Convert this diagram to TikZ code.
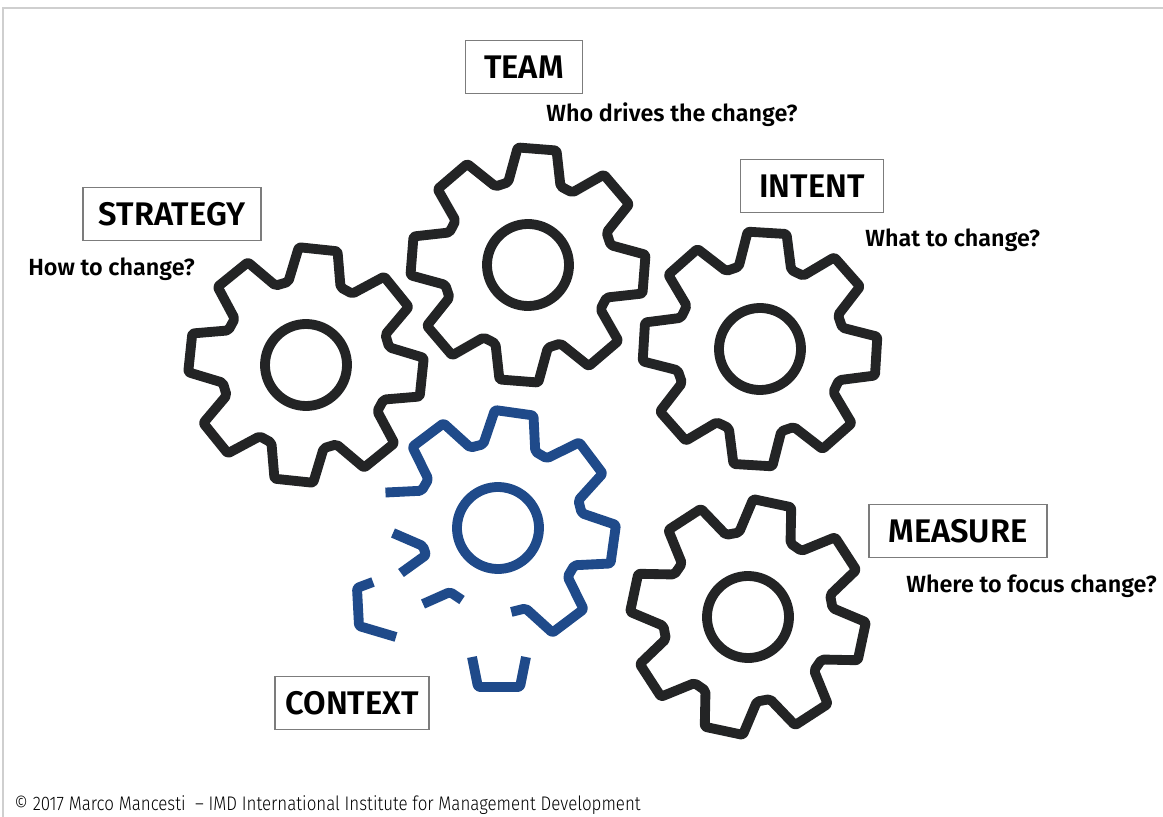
\documentclass[tikz,border=0pt]{standalone}
\usepackage{fontspec}
\setmainfont{Fira Sans}[BoldFont={Fira Sans SemiBold}]
\newfontfamily\footfont{Fira Sans Light}[FakeStretch=0.86, Ligatures=TeX]

\definecolor{gearblack}{HTML}{232425}
\definecolor{gearblue}{HTML}{1F4A8A}
\definecolor{boxgray}{HTML}{7C7C7C}
\definecolor{framegray}{HTML}{CFCFCF}

\tikzset{
  gearline/.style={draw=gearblack, line width=5.6pt, line join=round, rounded corners=1.2pt},
  labelbox/.style={draw=boxgray, line width=0.7pt, minimum height=1.06cm, inner sep=0pt,
    font=\fontsize{18.6}{20}\selectfont\bfseries},
  question/.style={inner sep=0pt, font=\fontsize{13.3}{15}\selectfont\bfseries}
}

% one cog: centre x, centre y, turn
\newcommand{\cog}[3]{%
  \begin{scope}[shift={(#1,#2)}, rotate=#3]
    \draw[gearline] (0,0) circle (41);
    \draw[gearline] (-18:85) -- (-9.5:118) -- (9.5:118) -- (18:85)
      \foreach \k in {1,...,7}{ -- (\k*45-18:85) -- (\k*45-9.5:118) -- (\k*45+9.5:118) -- (\k*45+18:85)} -- cycle;
  \end{scope}}

\begin{document}
\begin{tikzpicture}[x=0.02cm, y=-0.02cm]
  \useasboundingbox (0,0) rectangle (1163,817);
  \draw[framegray, line width=1.1pt] (3,817) -- (3,8) -- (1163,8);

  % the four running cogs
  \cog{306}{365}{-6}
  \cog{528}{265}{-4.5}
  \cog{760}{349}{-3.5}
  \cog{748}{617}{-12}

  % the broken one
  \begin{scope}[shift={(498,528)}, rotate=-8]
    \draw[gearline, draw=gearblue] (0,0) circle (41);
    \draw[gearline, draw=gearblue] (73:85)
      \foreach \k in {1,0,-1,-2,-3}{ -- (\k*45+18:85) -- (\k*45+9.5:118) -- (\k*45-9.5:118) -- (\k*45-18:85)}
      -- (-162:85) -- (-170.5:118);
  \end{scope}
  \draw[gearline, draw=gearblue] (393,533) -- (423,546) -- (426,555) -- (401,573);
  \draw[gearline, draw=gearblue] (423,604) -- (450,592) -- (462,600);
  \draw[gearline, draw=gearblue] (373,582) -- (357,588) -- (359,626) -- (396,637);
  \draw[gearline, draw=gearblue] (472,657) -- (478,687) -- (520,687) -- (526,657);

  % labels
  \node[labelbox, minimum width=2.34cm] (team) at (524,67) {TEAM};
  \node[labelbox, minimum width=3.56cm] (strategy) at (172,214) {STRATEGY};
  \node[labelbox, minimum width=2.86cm] (intent) at (812,186) {INTENT};
  \node[labelbox, minimum width=3.56cm] (measure) at (958,531) {MEASURE};
  \node[labelbox, minimum width=3.08cm] (context) at (352,703) {CONTEXT};

  \node[question, anchor=base west] (teamq) at (546,122) {Who drives the change?};
  \node[question, anchor=base west] (strategyq) at (28,276) {How to change?};
  \node[question, anchor=base west] (intentq) at (865,247) {What to change?};
  \node[question, anchor=base west] (measureq) at (906,592) {Where to focus change?};

  \node[anchor=base west, inner sep=0pt, font=\footfont\fontsize{11.2}{13}\selectfont] (credit) at (14,810)
    {\textcopyright{} 2017 Marco Mancesti \ \textendash{} IMD International Institute for Management Development};
\end{tikzpicture}
\end{document}
